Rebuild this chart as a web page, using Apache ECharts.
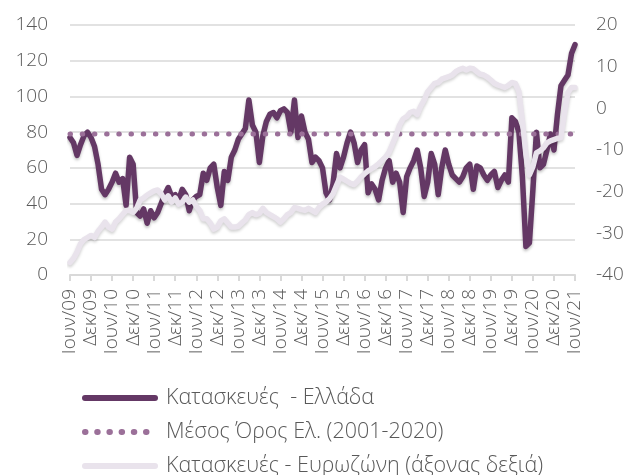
<!DOCTYPE html>
<html>
<head>
<meta charset="utf-8">
<script src="https://cdn.jsdelivr.net/npm/echarts@6/dist/echarts.min.js"></script>
<style>
    html, body { margin: 0; padding: 0; background: #fff; }
    #chart { width: 632px; height: 475px; }
</style>
</head>
<body>
<div id="chart"></div>
<script>
// Μήνες και έτη για τις κατηγορίες (Ιουν/09 - Ιουν/21)
const monthNames = ['Ιαν', 'Φεβ', 'Μαρ', 'Απρ', 'Μαϊ', 'Ιουν', 'Ιουλ', 'Αυγ', 'Σεπ', 'Οκτ', 'Νοε', 'Δεκ'];
const years = ['09', '10', '11', '12', '13', '14', '15', '16', '17', '18', '19', '20', '21'];

// Κατασκευές - Ελλάδα (αριστερός άξονας)
const greece = [
    77, 74, 67, 73, 78, 80, 77, 72, 62, 48,
    45, 48, 52, 57, 52, 54, 39, 66, 62, 35,
    33, 37, 29, 36, 32, 35, 40, 45, 49, 44,
    45, 42, 48, 45, 36, 42, 44, 45, 57, 53,
    60, 62, 49, 39, 58, 53, 66, 70, 76, 79,
    82, 98, 84, 80, 63, 78, 86, 90, 91, 88,
    92, 93, 91, 80, 98, 77, 89, 80, 76, 63,
    66, 64, 60, 46, 42, 51, 68, 60, 66, 74,
    80, 74, 63, 70, 73, 46, 51, 48, 42, 53,
    60, 64, 52, 57, 52, 35, 55, 60, 64, 70,
    60, 44, 52, 68, 62, 45, 60, 70, 62, 56,
    54, 52, 55, 60, 62, 48, 61, 60, 56, 53,
    56, 58, 49, 53, 56, 52, 88, 86, 80, 55,
    16, 18, 48, 80, 60, 62, 70, 79, 70, 90,
    106, 109, 112, 124, 129
];

// Μέσος Όρος Ελλάδας (2001-2020)
const greeceMean = 79;

// Κατασκευές - Ευρωζώνη (δεξιός άξονας)
const eurozone = [
    -37, -36, -34.5, -32.5, -31.5, -31, -30.5, -31, -29.5, -28.5,
    -27.3, -28.5, -29, -27.3, -26.5, -25.5, -24.5, -24.5, -25, -24,
    -22, -21.5, -20.8, -20.3, -19.8, -19.6, -20.5, -22, -21, -22.5,
    -21.5, -23, -22.5, -21.3, -22.5, -22, -23.5, -24.5, -26.5, -26.5,
    -27.5, -29, -28.5, -27, -26.5, -27.5, -28.5, -28.5, -28.3, -27.5,
    -26.8, -25.5, -25, -25.5, -25.2, -24, -25, -25.5, -26, -26.5,
    -27.3, -26.5, -25.5, -25, -23.8, -24, -24.3, -24.5, -24, -24.5,
    -25, -23.8, -23, -22.5, -21.7, -20.5, -18.5, -16.5, -17, -17.5,
    -18, -18.3, -17.5, -16.5, -15.7, -15, -14.5, -14, -13.3, -12.5,
    -11.7, -10.5, -8.5, -6.5, -4, -2.5, -2, -1, -0.7, -1.5,
    0.5, 2, 4, 5, 6, 6.2, 7, 7.3, 7.6, 8,
    8.8, 9.3, 9.6, 9.2, 9.6, 9.5, 8.8, 8.2, 8, 7.5,
    6.8, 6, 5.6, 5.3, 5, 5.5, 6.2, 6, 4, -3,
    -11, -16, -14, -10.7, -10.2, -9.5, -8.3, -7.8, -7.5, -7.2,
    -7, -1, 3.8, 5, 5
];

const seriesNames = ['Κατασκευές  - Ελλάδα', 'Μέσος Όρος Ελ. (2001-2020)', 'Κατασκευές - Ευρωζώνη (άξονας δεξιά)'];

// Ετικέτες μηνών
const categories = [];
years.forEach((yy, yi) => {
    monthNames.forEach((m, mi) => {
        if (yi === 0 && mi < 5) return;
        if (yi === years.length - 1 && mi > 5) return;
        categories.push(m + '/' + yy);
    });
});

const meanData = categories.map(() => greeceMean);

const textColor = '#595959';
const gridColor = '#d9d9d9';
const fontFamily = '"Open Sans", "DejaVu Sans", sans-serif';

const chart = echarts.init(document.getElementById('chart'));

chart.setOption({
    animation: false,
    textStyle: { fontFamily: fontFamily },
    grid: {
        left: 70,
        right: 57,
        top: 25,
        bottom: 200
    },
    legend: {
        orient: 'vertical',
        left: 82,
        top: 386,
        width: 540,
        height: 140,
        padding: 0,
        itemWidth: 70,
        itemHeight: 14,
        itemGap: 10,
        itemStyle: { opacity: 0 },
        lineStyle: { width: 6 },
        textStyle: {
            fontFamily: fontFamily,
            fontSize: 21.5,
            fontWeight: 300,
            lineHeight: 24,
            color: textColor,
            padding: [0, 0, 0, 6]
        },
        data: seriesNames
    },
    xAxis: {
        type: 'category',
        data: categories,
        boundaryGap: false,
        axisLine: { lineStyle: { color: gridColor, width: 2 } },
        axisTick: {
            show: true,
            interval: 5,
            length: 6,
            lineStyle: { color: gridColor, width: 2 }
        },
        axisLabel: {
            interval: 5,
            rotate: 90,
            margin: 14,
            fontSize: 19,
            fontWeight: 300,
            color: textColor,
            fontFamily: fontFamily
        },
        splitLine: { show: false }
    },
    yAxis: [{
        type: 'value',
        min: 0,
        max: 140,
        interval: 20,
        axisLine: { show: false },
        axisTick: { show: false },
        axisLabel: {
            fontSize: 19,
            fontWeight: 300,
            margin: 22,
            color: textColor,
            fontFamily: fontFamily
        },
        splitLine: { lineStyle: { color: gridColor, width: 1.5 } }
    }, {
        type: 'value',
        min: -40,
        max: 20,
        interval: 10,
        position: 'right',
        axisLine: { show: false },
        axisTick: { show: false },
        axisLabel: {
            fontSize: 19,
            fontWeight: 300,
            margin: 21,
            color: textColor,
            fontFamily: fontFamily
        },
        splitLine: { show: false }
    }],
    series: [{
        name: seriesNames[0],
        type: 'line',
        yAxisIndex: 0,
        data: greece,
        symbol: 'none',
        color: '#643865',
        lineStyle: {
            color: '#643865',
            width: 5.5,
            join: 'round',
            cap: 'round',
            shadowColor: 'rgba(0,0,0,0.25)',
            shadowBlur: 3,
            shadowOffsetY: 2
        }
    }, {
        name: seriesNames[1],
        type: 'line',
        yAxisIndex: 0,
        data: meanData,
        symbol: 'none',
        color: '#9b7099',
        lineStyle: {
            color: '#9b7099',
            width: 5,
            type: [0.5, 11.7],
            cap: 'round'
        }
    }, {
        name: seriesNames[2],
        type: 'line',
        yAxisIndex: 1,
        data: eurozone,
        symbol: 'none',
        color: '#e9e3ec',
        lineStyle: {
            color: '#e9e3ec',
            width: 5.5,
            join: 'round',
            cap: 'round',
            shadowColor: 'rgba(0,0,0,0.18)',
            shadowBlur: 3,
            shadowOffsetY: 2
        }
    }]
});
</script>
</body>
</html>
